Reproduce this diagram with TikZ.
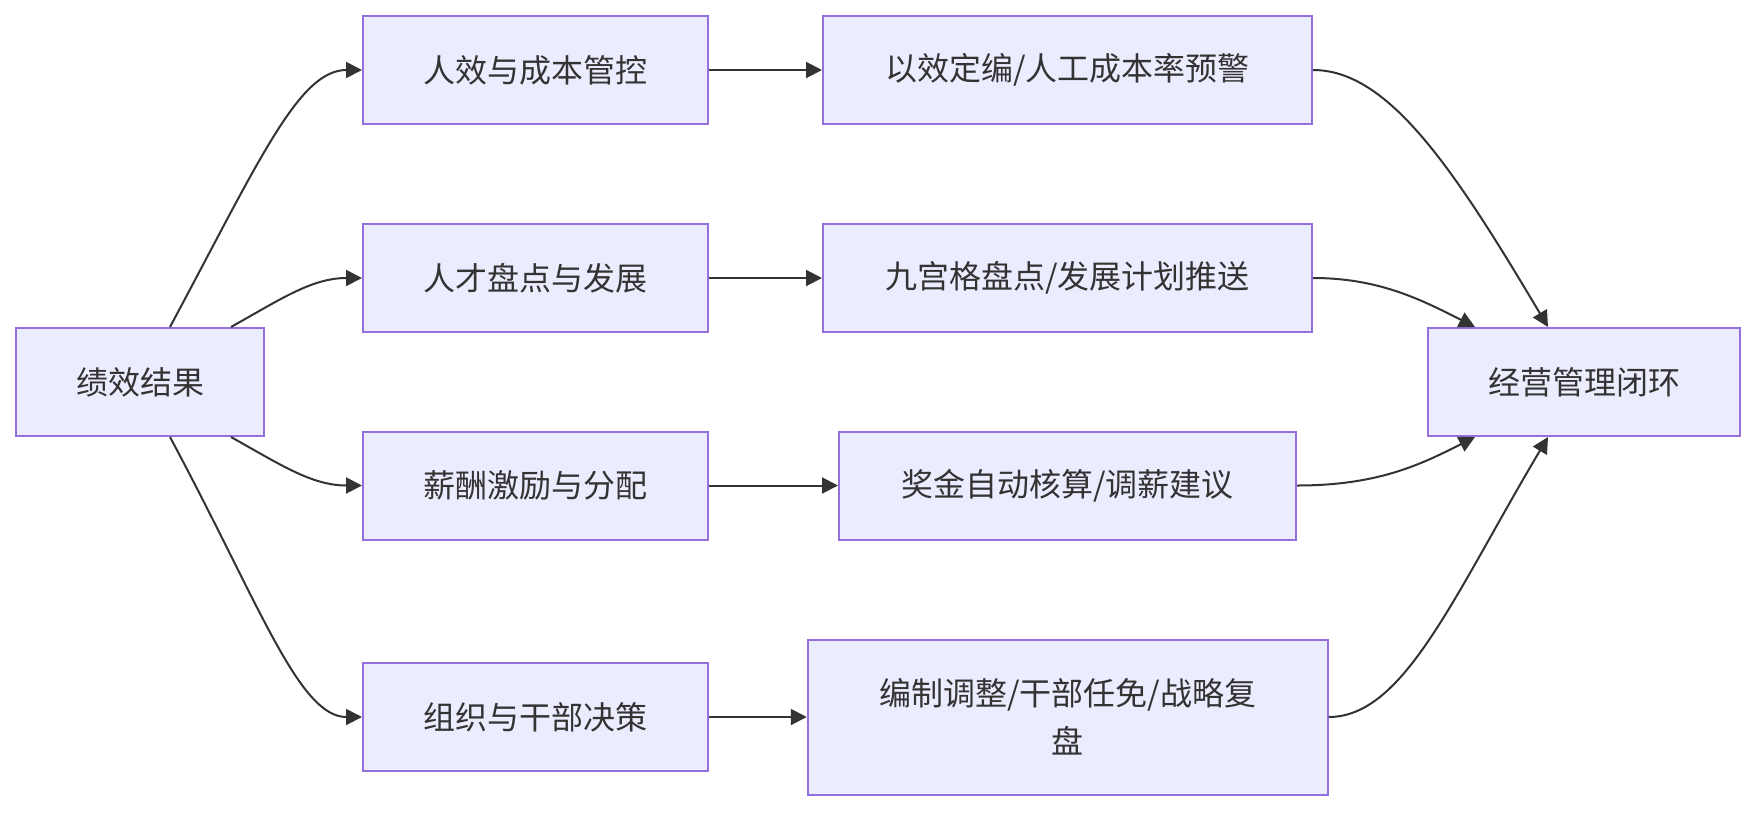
\documentclass[tikz,border=0pt]{standalone}
\usepackage{fontspec}
\setmainfont{Noto Sans CJK SC}
\usetikzlibrary{arrows.meta}
\definecolor{boxfill}{HTML}{ECECFF}
\definecolor{boxdraw}{HTML}{9370DB}
\definecolor{ink}{HTML}{333333}
\tikzset{
  box/.style={draw=boxdraw, fill=boxfill, line width=2pt, text=ink,
    font=\fontsize{32}{48}\selectfont, inner sep=0pt, align=center,
    minimum height=108pt},
  conn/.style={draw=ink, line width=2pt, -{Triangle[length=16pt,width=16pt]}}
}
\begin{document}
\begin{tikzpicture}[x=1pt,y=-1pt]
\useasboundingbox (0,0) rectangle (1756,812);
\node[box, minimum width=248pt] (a) at (140,382) {绩效结果};
\node[box, minimum width=345pt] (b1) at (535.5,70) {人效与成本管控};
\node[box, minimum width=345pt] (b2) at (535.5,278) {人才盘点与发展};
\node[box, minimum width=345pt] (b3) at (535.5,485.5) {薪酬激励与分配};
\node[box, minimum width=345pt] (b4) at (535.5,717) {组织与干部决策};
\node[box, minimum width=489pt] (c1) at (1067.5,70) {以效定编/人工成本率预警};
\node[box, minimum width=489pt] (c2) at (1067.5,278) {九宫格盘点/发展计划推送};
\node[box, minimum width=457pt] (c3) at (1067.5,485.5) {奖金自动核算/调薪建议};
\node[box, minimum width=520pt, minimum height=155pt] (c4) at (1067.75,717) {编制调整/干部任免/战略复\\盘};
\node[box, minimum width=312pt] (d) at (1584,382) {经营管理闭环};

% left fan-out
\draw[conn] ([xshift=30pt]a.north) .. controls +(90,-168) and +(-63,0) .. (b1.west);
\draw[conn] ([xshift=91pt]a.north) .. controls +(50,-28) and +(-50,0) .. (b2.west);
\draw[conn] ([xshift=91pt]a.south) .. controls +(50,28) and +(-50,0) .. (b3.west);
\draw[conn] ([xshift=30pt]a.south) .. controls +(90,168) and +(-63,0) .. (b4.west);

% middle straight
\draw[conn] (b1.east) -- (c1.west);
\draw[conn] (b2.east) -- (c2.west);
\draw[conn] (b3.east) -- (c3.west);
\draw[conn] (b4.east) -- (c4.west);

% right fan-in
\draw[conn] (c1.east) .. controls +(75,0) and +(-95,-160) .. ([xshift=-36pt]d.north);
\draw[conn] (c2.east) .. controls +(65,0) and +(-55,-28) .. ([xshift=-109pt]d.north);
\draw[conn] (c3.east) .. controls +(80,0) and +(-55,28) .. ([xshift=-109pt]d.south);
\draw[conn] (c4.east) .. controls +(75,0) and +(-95,160) .. ([xshift=-36pt]d.south);
\end{tikzpicture}
\end{document}
